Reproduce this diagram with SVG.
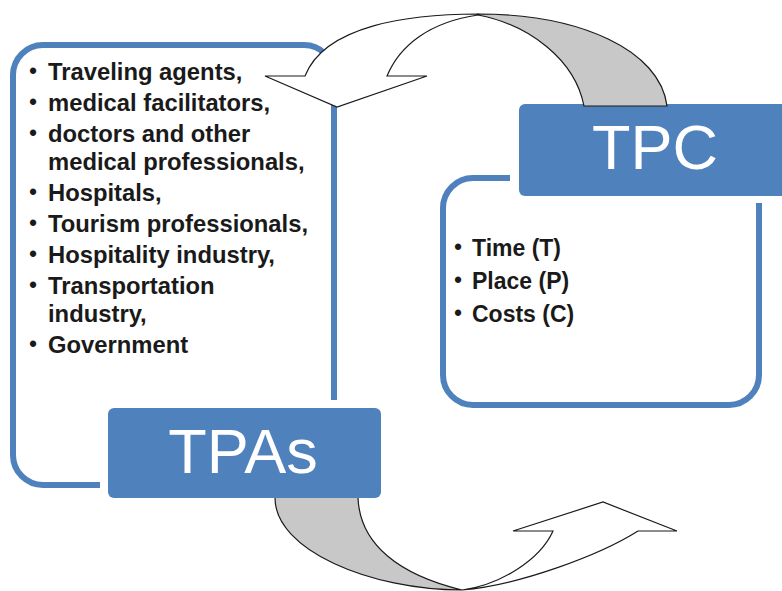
<svg xmlns="http://www.w3.org/2000/svg" width="782" height="591" viewBox="0 0 782 591">
  <style>
    .outline { fill: none; stroke: #4F81BD; stroke-width: 6; stroke-linecap: butt; }
    .title-box { fill: #4F81BD; }
    .title { font-family: "Liberation Sans", Arial, sans-serif; font-size: 63px; fill: #ffffff; text-anchor: middle; }
    .item { font-family: "Liberation Sans", Arial, sans-serif; font-size: 23.8px; font-weight: bold; fill: #1a1a1a; }
    .item-r { font-family: "Liberation Sans", Arial, sans-serif; font-size: 23px; font-weight: bold; fill: #1a1a1a; }
    .bullet { font-family: "Liberation Sans", Arial, sans-serif; font-size: 23px; fill: #1a1a1a; text-anchor: middle; }
    .ribbon-back { fill: #C8C8C8; stroke: #1a1a1a; stroke-width: 1.2; stroke-linejoin: miter; }
    .ribbon-front { fill: #ffffff; stroke: #1a1a1a; stroke-width: 1.2; stroke-linejoin: miter; }
    .ribbon-fill { fill: #C8C8C8; stroke: none; }
    .ribbon-edge { fill: none; stroke: #1a1a1a; stroke-width: 1.2; }
  </style>
  <rect width="782" height="591" fill="#ffffff"/>

  <g id="tpas">
    <path class="outline" d="M 334 400 V 75 A 30 30 0 0 0 304 45 H 43 A 30 30 0 0 0 13 75 V 455 A 30 30 0 0 0 43 485 H 100"/>
    <text class="bullet" x="33" y="79">•</text>
    <text class="item" x="48" y="80">Traveling agents,</text>
    <text class="bullet" x="33" y="110">•</text>
    <text class="item" x="48" y="111">medical facilitators,</text>
    <text class="bullet" x="33" y="141">•</text>
    <text class="item" x="48" y="142">doctors and other</text>
    <text class="item" x="48" y="170">medical professionals,</text>
    <text class="bullet" x="33" y="200">•</text>
    <text class="item" x="48" y="201">Hospitals,</text>
    <text class="bullet" x="33" y="231">•</text>
    <text class="item" x="48" y="232">Tourism professionals,</text>
    <text class="bullet" x="33" y="262">•</text>
    <text class="item" x="48" y="263">Hospitality industry,</text>
    <text class="bullet" x="33" y="293">•</text>
    <text class="item" x="48" y="294">Transportation</text>
    <text class="item" x="48" y="322">industry,</text>
    <text class="bullet" x="33" y="352">•</text>
    <text class="item" x="48" y="353">Government</text>
    <rect class="title-box" x="108" y="408" width="273" height="90" rx="6"/>
    <text class="title" x="243" y="473">TPAs</text>
  </g>

  <g id="tpc">
    <path class="outline" d="M 510 178 H 473 A 30 30 0 0 0 443 208 V 375 A 30 30 0 0 0 473 405 H 729 A 30 30 0 0 0 759 375 V 203"/>
    <text class="bullet" x="458" y="255">•</text>
    <text class="item-r" x="472" y="256">Time (T)</text>
    <text class="bullet" x="458" y="288">•</text>
    <text class="item-r" x="472" y="289">Place (P)</text>
    <text class="bullet" x="458" y="321">•</text>
    <text class="item-r" x="472" y="322">Costs (C)</text>
    <rect class="title-box" x="519" y="104" width="275" height="92" rx="6"/>
    <text class="title" x="655" y="169">TPC</text>
  </g>

  <g id="connectors">
    <g id="arrow-tpc-to-tpas">
      <path class="ribbon-back" d="M 478 14 C 580 14, 660 50, 667 106 L 584 106 C 575 60, 530 25, 478 15 Z"/>
      <path class="ribbon-front" d="M 305 76 C 325 25, 410 14, 478 14 C 478 14, 478 15, 478 15 C 430 22, 400 45, 387 76 L 427 76 L 337 107 L 265 76 Z"/>
    </g>
    <g id="arrow-tpas-to-tpc">
      <path class="ribbon-fill" d="M 275 498 C 275 550, 370 590, 462 590 C 400 575, 360 545, 358 498 Z"/>
      <path class="ribbon-edge" d="M 275 498 C 275 550, 370 590, 462 590 C 400 575, 360 545, 358 498"/>
      <path class="ribbon-front" d="M 462 590 C 520 585, 600 555, 638 531 L 677 531 L 603 502 L 513 531 L 553 531 C 540 560, 500 585, 462 590 Z"/>
    </g>
  </g>
</svg>
